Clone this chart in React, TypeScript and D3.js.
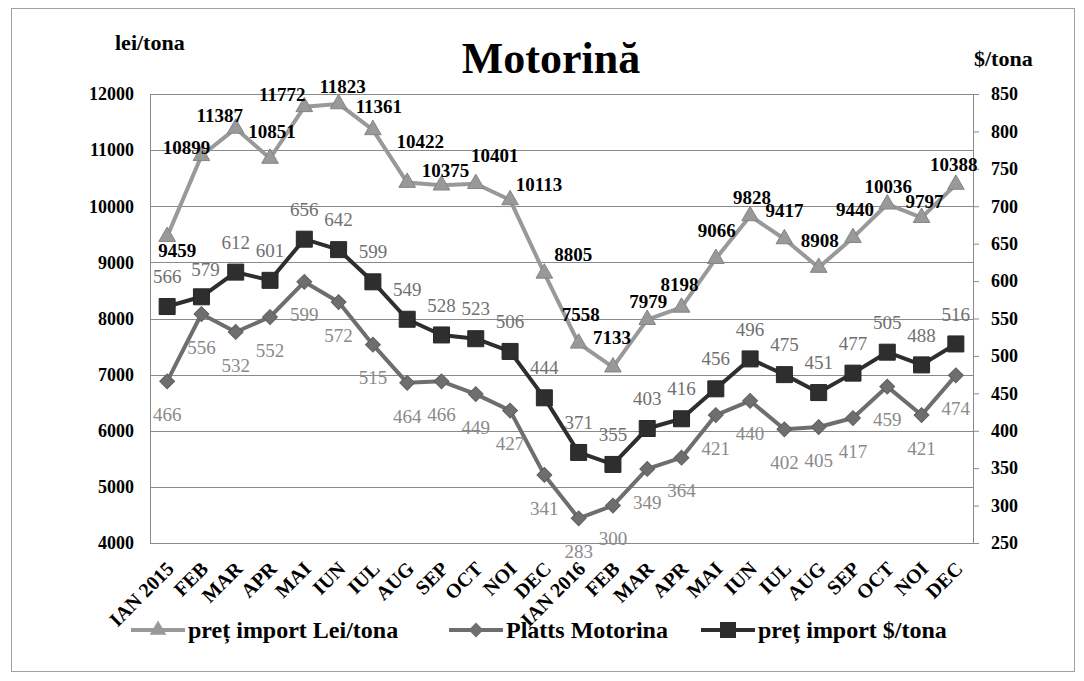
import React, { useEffect, useRef } from 'react';
import * as d3 from 'd3';

// chart data
const months = ['IAN 2015', 'FEB', 'MAR', 'APR', 'MAI', 'IUN', 'IUL', 'AUG', 'SEP', 'OCT', 'NOI', 'DEC',
  'IAN 2016', 'FEB', 'MAR', 'APR', 'MAI', 'IUN', 'IUL', 'AUG', 'SEP', 'OCT', 'NOI', 'DEC'];
const pretLei = [9459, 10899, 11387, 10851, 11772, 11823, 11361, 10422, 10375, 10401, 10113, 8805,
  7558, 7133, 7979, 8198, 9066, 9828, 9417, 8908, 9440, 10036, 9797, 10388];
const platts = [466, 556, 532, 552, 599, 572, 515, 464, 466, 449, 427, 341,
  283, 300, 349, 364, 421, 440, 402, 405, 417, 459, 421, 474];
const pretUsd = [566, 579, 612, 601, 656, 642, 599, 549, 528, 523, 506, 444,
  371, 355, 403, 416, 456, 496, 475, 451, 477, 505, 488, 516];
const leiTicks = [4000, 5000, 6000, 7000, 8000, 9000, 10000, 11000, 12000];
const usdTicks = [250, 300, 350, 400, 450, 500, 550, 600, 650, 700, 750, 800, 850];

// hand placed label nudges of the lei series (the others sit at a fixed offset)
const leiNudgeX = [10, -15, -16, 2, -22, 4, 6, 13, 4, 19, 29, 29, 2, -1, 1, -2, 1, 2, 0, 1, 2, 1, 3, -2];
const leiNudgeY = [14, -8, -13, -27, -12, -18, -24, -41, -15, -28, -16, -19, -29, -30, -18, -23, -28, -19, -29, -27, -28, -18, -16, -20];

const W = 1084;
const H = 681;
const serif = '"Liberation Serif", "Times New Roman", serif';

const App = () => {
  const ref = useRef<SVGSVGElement>(null);

  useEffect(() => {
    document.body.style.margin = '0';
    const svg = d3.select(ref.current);
    svg.selectAll('*').remove();

    const left = 150, right = 973, top = 94, bottom = 543;

    const x = d3.scaleBand<number>().domain(d3.range(months.length)).range([left, right]);
    const cx = (i: number) => (x(i) as number) + x.bandwidth() / 2;
    const yLei = d3.scaleLinear().domain([4000, 12000]).range([bottom, top]);
    const yUsd = d3.scaleLinear().domain([250, 850]).range([bottom, top]);

    svg.append('rect').attr('width', W).attr('height', H).attr('fill', '#fff');
    // outer frame
    svg.append('rect')
      .attr('x', 11.5).attr('y', 8.5).attr('width', 1063).attr('height', 663)
      .attr('fill', 'none').attr('stroke', '#a0a0a0').attr('stroke-width', 1);

    // gridlines
    svg.append('g').selectAll('line').data(leiTicks).enter().append('line')
      .attr('x1', left).attr('x2', right)
      .attr('y1', (d) => Math.round(yLei(d)) + 0.5).attr('y2', (d) => Math.round(yLei(d)) + 0.5)
      .attr('stroke', '#8a8a8a').attr('stroke-width', 1);

    svg.append('line').attr('x1', left + 0.5).attr('x2', left + 0.5).attr('y1', top).attr('y2', bottom)
      .attr('stroke', '#8a8a8a');

    // left axis
    const gl = svg.append('g').attr('transform', `translate(${left},0)`)
      .call(d3.axisLeft(yLei).tickValues(leiTicks).tickSize(0).tickPadding(16).tickFormat(d3.format('d')));
    gl.select('.domain').remove();
    gl.selectAll('text').attr('font-family', serif).attr('font-weight', 'bold').attr('font-size', 18).attr('fill', '#000');

    // right axis
    const gr = svg.append('g').attr('transform', `translate(${right},0)`)
      .call(d3.axisRight(yUsd).tickValues(usdTicks).tickSize(6).tickPadding(12).tickFormat(d3.format('d')));
    gr.select('.domain').attr('stroke', '#8a8a8a');
    gr.selectAll('line').attr('stroke', '#8a8a8a');
    gr.selectAll('text').attr('font-family', serif).attr('font-weight', 'bold').attr('font-size', 18).attr('fill', '#000');

    // x axis labels
    svg.append('g').selectAll('text').data(months).enter().append('text')
      .attr('transform', (_, i) => `translate(${cx(i) + 8},${bottom + 27}) rotate(-45)`)
      .attr('text-anchor', 'end')
      .attr('font-family', serif).attr('font-weight', 'bold').attr('font-size', 20)
      .text((d) => d);

    const series = [
      { values: pretLei, y: yLei, color: '#999999', marker: 'tri' },
      { values: platts, y: yUsd, color: '#6e6e6e', marker: 'dia' },
      { values: pretUsd, y: yUsd, color: '#2e2e2e', marker: 'sq' },
    ];

    const markerPath = (m: string) => {
      if (m === 'tri') return d3.symbol().type(d3.symbolTriangle).size(120)();
      if (m === 'dia') return d3.symbol().type(d3.symbolSquare).size(110)();
      return d3.symbol().type(d3.symbolSquare).size(256)();
    };

    series.forEach((s) => {
      const line = d3.line<number>().x((_, i) => cx(i)).y((d) => s.y(d));
      svg.append('path').datum(s.values).attr('d', line)
        .attr('fill', 'none').attr('stroke', s.color).attr('stroke-width', 4).attr('stroke-linejoin', 'round');
      svg.append('g').selectAll('path').data(s.values).enter().append('path')
        .attr('d', markerPath(s.marker))
        .attr('transform', (d, i) => `translate(${cx(i)},${s.y(d)})${s.marker === 'dia' ? ' rotate(45)' : ''}`)
        .attr('fill', s.color).attr('stroke', d3.color(s.color)!.darker(0.4).toString()).attr('stroke-width', 1);
    });

    // data labels
    svg.append('g').selectAll('text').data(pretLei).enter().append('text')
      .attr('x', (_, i) => cx(i) + leiNudgeX[i]).attr('y', (d, i) => yLei(d) + leiNudgeY[i])
      .attr('dy', '0.35em').attr('text-anchor', 'middle')
      .attr('font-family', serif).attr('font-weight', 'bold').attr('font-size', 19).attr('fill', '#000')
      .text((d) => d);

    svg.append('g').selectAll('text').data(platts).enter().append('text')
      .attr('x', (_, i) => cx(i)).attr('y', (d) => yUsd(d) + 33)
      .attr('dy', '0.35em').attr('text-anchor', 'middle')
      .attr('font-family', serif).attr('font-size', 19).attr('fill', '#8a8a8a')
      .text((d) => d);

    svg.append('g').selectAll('text').data(pretUsd).enter().append('text')
      .attr('x', (_, i) => cx(i) + (i === 1 ? 4 : 0)).attr('y', (d, i) => yUsd(d) - (i === 1 ? 27 : 30))
      .attr('dy', '0.35em').attr('text-anchor', 'middle')
      .attr('font-family', serif).attr('font-size', 19).attr('fill', '#707070')
      .text((d) => d);

    // titles
    svg.append('text').attr('x', 551).attr('y', 73).attr('text-anchor', 'middle')
      .attr('font-family', serif).attr('font-weight', 'bold').attr('font-size', 44).text('Motorină');
    svg.append('text').attr('x', 115).attr('y', 50)
      .attr('font-family', serif).attr('font-weight', 'bold').attr('font-size', 22).text('lei/tona');
    svg.append('text').attr('x', 974).attr('y', 66)
      .attr('font-family', serif).attr('font-weight', 'bold').attr('font-size', 22).text('$/tona');

    // legend
    const legend = [
      { name: 'preț import Lei/tona', x: 131, s: series[0] },
      { name: 'Platts Motorina', x: 449, s: series[1] },
      { name: 'preț import $/tona', x: 701, s: series[2] },
    ];
    const lg = svg.append('g').attr('transform', 'translate(0,630)');
    legend.forEach((l) => {
      lg.append('line').attr('x1', l.x).attr('x2', l.x + 54).attr('y1', 0).attr('y2', 0)
        .attr('stroke', l.s.color).attr('stroke-width', 4);
      lg.append('path').attr('d', markerPath(l.s.marker))
        .attr('transform', `translate(${l.x + 27},0)${l.s.marker === 'dia' ? ' rotate(45)' : ''}`)
        .attr('fill', l.s.color);
      lg.append('text').attr('x', l.x + 57).attr('y', 0).attr('dy', '0.35em')
        .attr('font-family', serif).attr('font-weight', 'bold').attr('font-size', 24).text(l.name);
    });
  }, []);

  return <svg ref={ref} width={W} height={H} style={{ display: 'block' }} />;
};

export default App;
